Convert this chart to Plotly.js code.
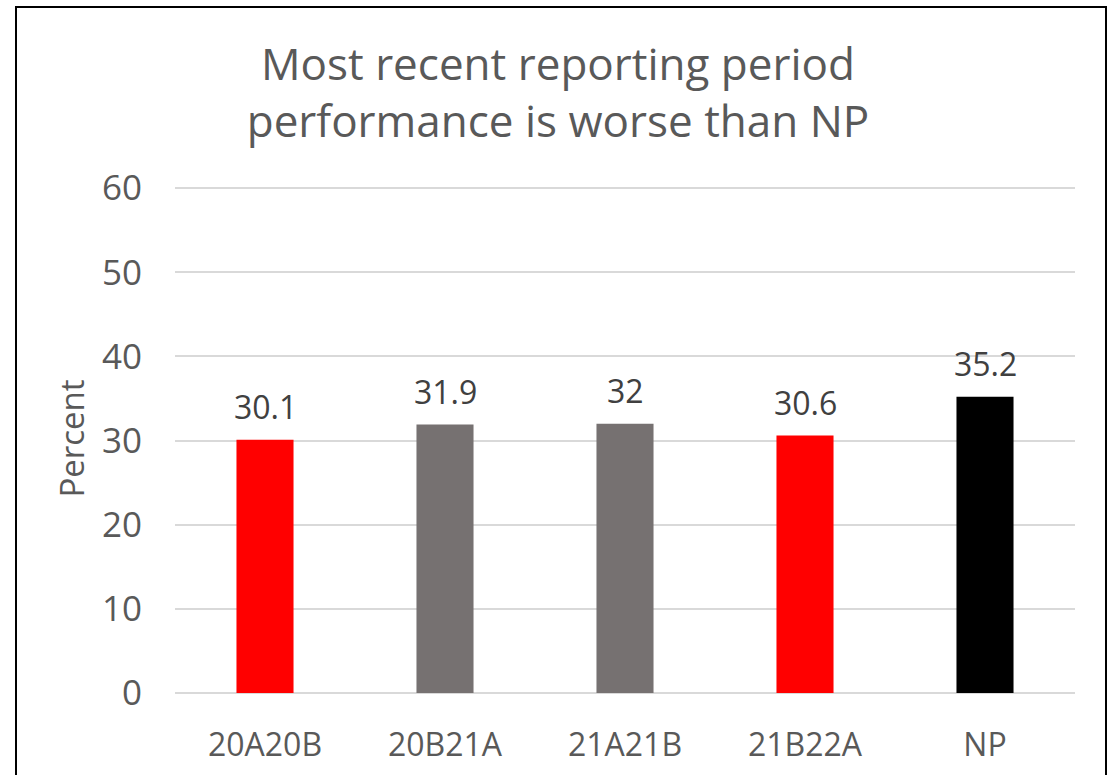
<!DOCTYPE html>
<html>
<head>
<meta charset="utf-8">
<script src="https://cdn.plot.ly/plotly-3.0.1.min.js"></script>
<style>
html,body{margin:0;padding:0;background:#fff;}
#wrap{position:relative;width:1116px;height:775px;overflow:hidden;}
#chart{position:absolute;left:0;top:0;width:1116px;height:775px;}
#frame{position:absolute;left:15px;top:6px;width:1088px;height:800px;border:2px solid #000;pointer-events:none;}
</style>
</head>
<body>
<div id="wrap"><div id="chart"></div><div id="frame"></div></div>
<script>
const categories = ["20A20B", "20B21A", "21A21B", "21B22A", "NP"];
const values = [30.1, 31.9, 32, 30.6, 35.2];
const barColors = ["#ff0000", "#767171", "#767171", "#ff0000", "#000000"];
const yTicks = [0, 10, 20, 30, 40, 50, 60];
const chartTitle = "Most recent reporting period<br>performance is worse than NP";
const yTitle = "Percent";

const textColor = "#595959";
const fontFam = "'Open Sans', 'Noto Sans', sans-serif";

const trace = {
  type: "bar",
  x: categories,
  y: values,
  marker: {color: barColors},
  hoverinfo: "none"
};

const annotations = categories.map((c, i) => ({
  x: c, y: values[i], xref: "x", yref: "y",
  text: String(values[i]),
  showarrow: false,
  yanchor: "bottom",
  yshift: 10,
  font: {family: fontFam, size: 32, color: "#404040"}
}));

const layout = {
  width: 1116, height: 775,
  margin: {l: 175, r: 41, t: 184, b: 82},
  paper_bgcolor: "#fff", plot_bgcolor: "#fff",
  showlegend: false,
  bargap: 0.683,
  title: {
    text: chartTitle,
    x: 0.5, xref: "container", xanchor: "center",
    y: 0.897, yref: "container", yanchor: "middle",
    font: {family: fontFam, size: 44, color: textColor}
  },
  xaxis: {
    type: "category",
    tickfont: {family: fontFam, size: 32, color: textColor},
    showgrid: false, zeroline: false, showline: false,
    ticks: "", ticklabelstandoff: 30
  },
  yaxis: {
    range: [0, 60.5],
    tickvals: yTicks,
    ticktext: yTicks.map(String),
    tickfont: {family: fontFam, size: 35, color: textColor},
    showgrid: true, gridcolor: "#d9d9d9", gridwidth: 2,
    zeroline: true, zerolinecolor: "#d9d9d9", zerolinewidth: 2,
    showline: false, ticks: "", ticklabelstandoff: 32,
    title: {text: yTitle, standoff: 7, font: {family: fontFam, size: 33, color: textColor}},
    automargin: false
  },
  annotations: annotations
};

Plotly.newPlot("chart", [trace], layout, {displayModeBar: false, staticPlot: true});
</script>
</body>
</html>
